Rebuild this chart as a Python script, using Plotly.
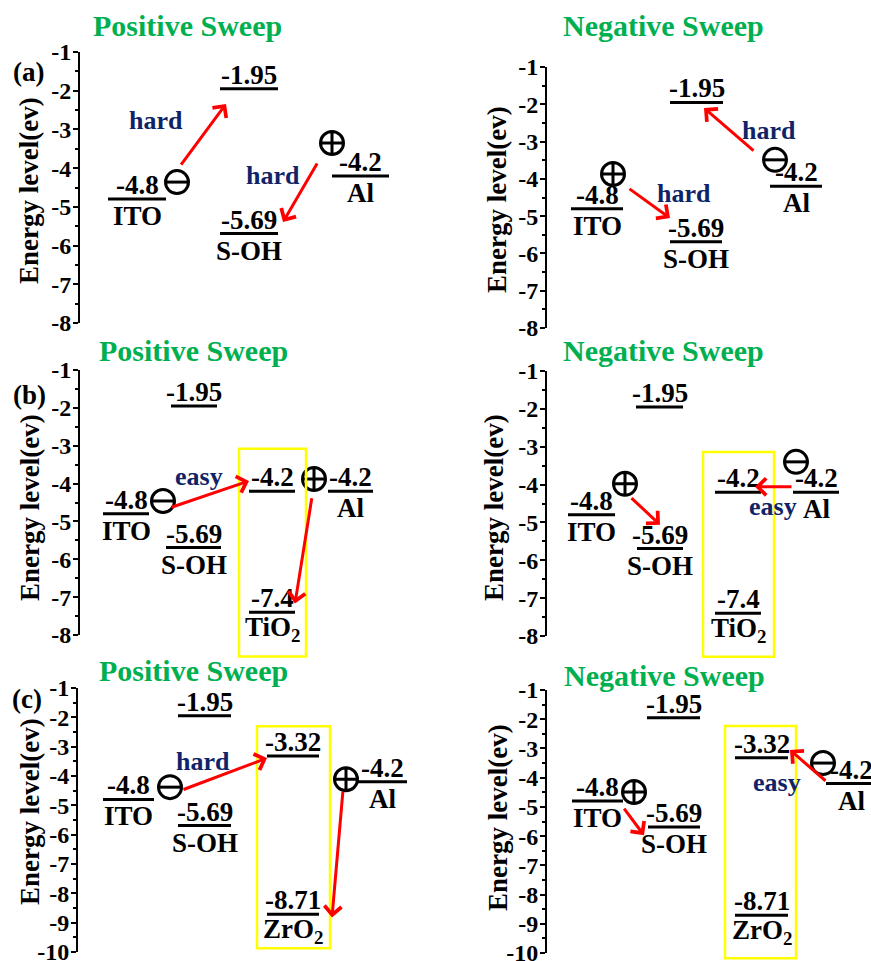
import plotly.graph_objects as go

# ---------------- data ----------------
tick_vals_ab = [-1, -2, -3, -4, -5, -6, -7, -8]
tick_vals_c = [-1, -2, -3, -4, -5, -6, -7, -8, -9, -10]
tick_text_ab = ["-1", "-2", "-3", "-4", "-5", "-6", "-7", "-8"]
tick_text_c = ["-1", "-2", "-3", "-4", "-5", "-6", "-7", "-8", "-9", "-10"]

sweep_titles = ["Positive Sweep", "Negative Sweep"]
panel_letters = ["(a)", "(b)", "(c)"]
y_title = "Energy level(ev)"

energies_a = [-4.8, -1.95, -5.69, -4.2]
numbers_a = ["-4.8", "-1.95", "-5.69", "-4.2"]
names_a = ["ITO", "", "S-OH", "Al"]

energies_b = [-4.8, -1.95, -5.69, -4.2, -7.4, -4.2]
numbers_b = ["-4.8", "-1.95", "-5.69", "-4.2", "-7.4", "-4.2"]
names_b = ["ITO", "", "S-OH", "", "TiO<sub>2</sub>", "Al"]

energies_c = [-4.8, -1.95, -5.69, -3.32, -8.71, -4.2]
numbers_c = ["-4.8", "-1.95", "-5.69", "-3.32", "-8.71", "-4.2"]
names_c = ["ITO", "", "S-OH", "", "ZrO<sub>2</sub>", "Al"]

words_a_pos = ["hard", "hard"]
words_a_neg = ["hard", "hard"]
words_b_pos = ["easy"]
words_b_neg = ["easy"]
words_c_pos = ["hard"]
words_c_neg = ["easy"]

# ---------------- layout positions (pixels / eV) ----------------
W_PX, H_PX = 871, 961
FONT = "Liberation Serif, Times New Roman, serif"
GREEN = "#00B050"
NAVY = "#0F2468"

PANELS = [
    dict(data=(energies_a, numbers_a, names_a, words_a_pos), px=(80, 440, 52, 323), yr=(-8, -1),
         ticks=(tick_vals_ab, tick_text_ab),
         lines=[(28, 86), (140, 198), (140, 198), (252, 309)],
         plus=[(252, -3.35)], minus=[(97, -4.36)],
         words=[(76, -2.76), (193, -4.18)],
         arrows=[((100, -3.95), (146, -2.34)), ((238, -3.84), (203, -5.39))],
         box=None, title=(0, 187, 25), ytitle=(29, 191), letter=(0, 28, 72)),
    dict(data=(energies_a, numbers_a, names_a, words_a_neg), px=(547, 871, 67, 328), yr=(-8, -1),
         ticks=(tick_vals_ab, tick_text_ab),
         lines=[(24, 76), (123, 176), (123, 175), (223, 275)],
         plus=[(66, -3.87)], minus=[(228, -3.49)],
         words=[(137, -4.38), (222, -2.69)],
         arrows=[((81, -4.24), (123, -5.05)), ((208, -3.28), (157, -2.10))],
         box=None, title=(1, 663, 25), ytitle=(497, 200), letter=None),
    dict(data=(energies_b, numbers_b, names_b, words_b_pos), px=(80, 440, 370, 635), yr=(-8, -1),
         ticks=(tick_vals_ab, tick_text_ab),
         lines=[(23, 69), (91, 137), (86, 141), (169, 215), (169, 215), (248, 293)],
         plus=[(234, -3.88)], minus=[(83, -4.46)],
         words=[(119, -3.80)],
         arrows=[((90, -4.64), (169, -3.93)), ((232, -4.35), (215, -7.17))],
         box=(159, 226, -3.08, -8.57), title=(0, 193, 350), ytitle=(30, 508), letter=(1, 29, 395)),
    dict(data=(energies_b, numbers_b, names_b, words_b_neg), px=(547, 871, 371, 636), yr=(-8, -1),
         ticks=(tick_vals_ab, tick_text_ab),
         lines=[(21, 68), (89, 136), (90, 136), (168, 214), (168, 214), (246, 292)],
         plus=[(78, -3.98)], minus=[(249, -3.40)],
         words=[(226, -4.59)],
         arrows=[((83, -4.32), (113, -5.06)), ((246, -4.06), (208, -4.06))],
         box=(156, 227, -3.14, -8.55), title=(1, 663, 351), ytitle=(494, 508), letter=None),
    dict(data=(energies_c, numbers_c, names_c, words_c_pos), px=(78, 440, 688, 952), yr=(-10, -1),
         ticks=(tick_vals_c, tick_text_c),
         lines=[(25, 76), (100, 153), (100, 153), (189, 241), (189, 241), (279, 329)],
         plus=[(268, -4.11)], minus=[(92, -4.38)],
         words=[(125, -3.49)],
         arrows=[((104, -4.48), (189, -3.39)), ((265, -4.48), (254, -8.82))],
         box=(179, 252, -2.30, -9.87), title=(0, 193, 670), ytitle=(30, 812), letter=(2, 27, 699)),
    dict(data=(energies_c, numbers_c, names_c, words_c_neg), px=(547, 871, 690, 953), yr=(-10, -1),
         ticks=(tick_vals_c, tick_text_c),
         lines=[(25, 76), (100, 153), (101, 153), (188, 241), (188, 241), (279, 330)],
         plus=[(87, -4.49)], minus=[(276, -3.50)],
         words=[(230, -4.18)],
         arrows=[((76, -5.01), (97, -5.97)), ((280, -4.15), (243, -3.05))],
         box=(178, 249, -2.23, -10.18), title=(1, 664, 675), ytitle=(498, 818), letter=None),
]

NUM_SHIFT = 14
NAME_SHIFT = -17
SYM_SIZE = 23
LABEL_SIZE = 27

fig = go.Figure()
annotations = []
shapes = []
layout = {}


def bold(t):
    return "<b>" + t + "</b>"


for i, P in enumerate(PANELS, start=1):
    sfx = "" if i == 1 else str(i)
    xr, yr_ = "x" + sfx, "y" + sfx
    x0, x1, ytop, ybot = P["px"]
    W = x1 - x0
    ymin, ymax = P["yr"]
    tv, tt = P["ticks"]
    energies, numbers, names, words = P["data"]

    layout["xaxis" + sfx] = dict(domain=[x0 / W_PX, x1 / W_PX], range=[0, W], visible=False,
                                 anchor=yr_, fixedrange=True, automargin=False)
    minor_vals = [v - 0.5 for v in tv[:-1]]
    layout["yaxis" + sfx] = dict(
        domain=[1 - ybot / H_PX, 1 - ytop / H_PX], range=[ymin, ymax], anchor=xr,
        automargin=False,
        showline=True, linecolor="black", linewidth=2, showgrid=False, zeroline=False,
        ticks="outside", ticklen=5, tickwidth=2, tickcolor="black",
        tickmode="array", tickvals=tv, ticktext=[bold(t) for t in tt],
        ticklabelstandoff=-3, ticklabeloverflow="allow",
        tickfont=dict(family=FONT, size=24, color="black"),
        minor=dict(ticks="outside", ticklen=3, tickwidth=2, tickcolor="black", tickvals=minor_vals),
        fixedrange=True,
    )

    # energy level lines
    lx, ly = [], []
    for (a, b), e in zip(P["lines"], energies):
        lx += [a, b, None]
        ly += [e, e, None]
    fig.add_trace(go.Scatter(x=lx, y=ly, mode="lines", line=dict(color="black", width=3),
                             xaxis=xr, yaxis=yr_, showlegend=False, hoverinfo="skip"))

    # numbers and names
    for (a, b), e, num, nm in zip(P["lines"], energies, numbers, names):
        cx = (a + b) / 2
        annotations.append(dict(x=cx, y=e, xref=xr, yref=yr_, text=bold(num), showarrow=False,
                                xanchor="center", yanchor="middle", yshift=NUM_SHIFT,
                                font=dict(family=FONT, size=LABEL_SIZE, color="black")))
        if nm:
            annotations.append(dict(x=cx, y=e, xref=xr, yref=yr_, text=bold(nm), showarrow=False,
                                    xanchor="center", yanchor="middle", yshift=NAME_SHIFT,
                                    font=dict(family=FONT, size=LABEL_SIZE, color="black")))

    # hard / easy words
    for (wx, wy), w in zip(P["words"], words):
        annotations.append(dict(x=wx, y=wy, xref=xr, yref=yr_, text=bold(w), showarrow=False,
                                xanchor="center", yanchor="middle",
                                font=dict(family=FONT, size=26, color=NAVY)))

    # arrows
    for (t, h) in P["arrows"]:
        annotations.append(dict(x=h[0], y=h[1], ax=t[0], ay=t[1], xref=xr, yref=yr_,
                                axref=xr, ayref=yr_, text="", showarrow=True, arrowhead=4,
                                arrowsize=1.1, arrowwidth=3, arrowcolor="#FF0000",
                                standoff=0, startstandoff=0))

    # charge symbols
    px_ = [p[0] for p in P["plus"]]
    py_ = [p[1] for p in P["plus"]]
    mx_ = [p[0] for p in P["minus"]]
    my_ = [p[1] for p in P["minus"]]
    fig.add_trace(go.Scatter(x=px_, y=py_, mode="markers", xaxis=xr, yaxis=yr_,
                             marker=dict(symbol="circle-cross-open", size=SYM_SIZE, color="black",
                                         line=dict(width=3, color="black")),
                             showlegend=False, hoverinfo="skip", cliponaxis=False))
    fig.add_trace(go.Scatter(x=mx_, y=my_, mode="markers", xaxis=xr, yaxis=yr_,
                             marker=dict(symbol="circle-open", size=SYM_SIZE, color="black",
                                         line=dict(width=3, color="black")),
                             showlegend=False, hoverinfo="skip", cliponaxis=False))
    fig.add_trace(go.Scatter(x=mx_, y=my_, mode="markers", xaxis=xr, yaxis=yr_,
                             marker=dict(symbol="line-ew", size=SYM_SIZE / 1.4, color="black",
                                         line=dict(width=3, color="black")),
                             showlegend=False, hoverinfo="skip", cliponaxis=False))

    # yellow box
    if P["box"]:
        bx0, bx1, by0, by1 = P["box"]
        shapes.append(dict(type="rect", xref=xr + " domain", yref=yr_ + " domain",
                           x0=bx0 / W, x1=bx1 / W,
                           y0=(by1 - ymin) / (ymax - ymin), y1=(by0 - ymin) / (ymax - ymin),
                           line=dict(color="#FFFF00", width=2.5)))

    # titles
    col, tx, ty = P["title"]
    annotations.append(dict(x=tx / W_PX, y=1 - ty / H_PX, xref="paper", yref="paper",
                            text=bold(sweep_titles[col]), showarrow=False,
                            xanchor="center", yanchor="middle",
                            font=dict(family=FONT, size=30, color=GREEN)))
    ytx, yty = P["ytitle"]
    annotations.append(dict(x=ytx / W_PX, y=1 - yty / H_PX, xref="paper", yref="paper",
                            text=bold(y_title), showarrow=False, textangle=-90,
                            xanchor="center", yanchor="middle",
                            font=dict(family=FONT, size=27, color="black")))
    if P["letter"]:
        li, lx_, ly_ = P["letter"]
        annotations.append(dict(x=lx_ / W_PX, y=1 - ly_ / H_PX, xref="paper", yref="paper",
                                text=bold(panel_letters[li]), showarrow=False,
                                xanchor="center", yanchor="middle",
                                font=dict(family=FONT, size=27, color="black")))

fig.update_layout(**layout)
fig.update_layout(width=W_PX, height=H_PX, margin=dict(l=0, r=0, t=0, b=0, autoexpand=False),
                  paper_bgcolor="white", plot_bgcolor="white",
                  annotations=annotations, shapes=shapes, showlegend=False,
                  font=dict(family=FONT))

fig.write_html("out.html")
